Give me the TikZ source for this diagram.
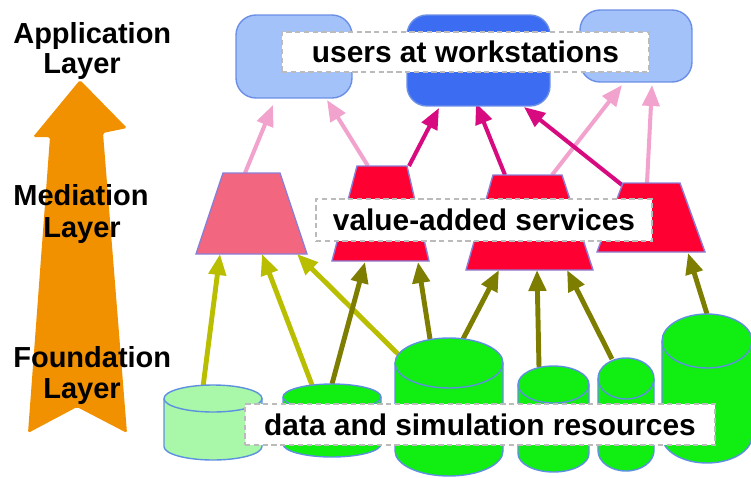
\documentclass[tikz,border=0pt]{standalone}
\usepackage{fontspec}
\setmainfont{Liberation Sans}
\usetikzlibrary{arrows.meta}

\definecolor{layerorange}{HTML}{F29100}
\definecolor{paleblue}{HTML}{A4C2FA}
\definecolor{deepblue}{HTML}{3B6CF2}
\definecolor{edgeblue}{HTML}{6B8FE6}
\definecolor{servpink}{HTML}{F2667F}
\definecolor{servred}{HTML}{FF0033}
\definecolor{servedge}{HTML}{8A7FD8}
\definecolor{datagreen}{HTML}{11EE11}
\definecolor{palegreen}{HTML}{A9F7A9}
\definecolor{dataedge}{HTML}{5E90E0}
\definecolor{lightpink}{HTML}{F2A3CD}
\definecolor{magentaarr}{HTML}{D80A80}
\definecolor{limearr}{HTML}{B9BF00}
\definecolor{olivearr}{HTML}{7D7D00}
\definecolor{dashgray}{HTML}{BBBBBB}

% fill, centre x, top y, bottom y, x radius, y radius (pixels)
\newcommand{\drum}[6]{%
  \filldraw[fill=#1,draw=dataedge,line width=0.8pt] (#2-#5,#3) -- (#2-#5,#4)
    arc[start angle=180,end angle=360,x radius=#5*0.02cm,y radius=#6*0.02cm]
    -- (#2+#5,#3);
  \filldraw[fill=#1,draw=dataedge,line width=0.8pt] (#2,#3)
    ellipse[x radius=#5*0.02cm,y radius=#6*0.02cm];
}

\tikzset{
  layer/.style={inner sep=0pt,font=\fontsize{16.5}{18}\selectfont\bfseries},
  note/.style={draw=dashgray,fill=white,dash pattern=on 3pt off 2pt,line width=0.8pt,
    inner sep=0pt,font=\fontsize{17}{18}\selectfont\bfseries},
  wsbox/.style={draw=edgeblue,fill=paleblue,line width=0.8pt,rounded corners=0.4cm},
  trap/.style={draw=servedge,fill=servred,line width=0.8pt},
  uparr/.style={-{Triangle[length=0.42cm,width=0.34cm]}},
  pk/.style={uparr,draw=lightpink,fill=lightpink,line width=2.3pt},
  mg/.style={uparr,draw=magentaarr,fill=magentaarr,line width=2.3pt},
  lime/.style={uparr,draw=limearr,fill=limearr,line width=2.8pt},
  olive/.style={uparr,draw=olivearr,fill=olivearr,line width=2.8pt}
}

\begin{document}
\begin{tikzpicture}[x=0.02cm,y=-0.02cm]
\useasboundingbox (0,0) rectangle (751,477);

% Big arrow behind the layer names
\fill[layerorange,rounded corners=1pt] (80,80) -- (127,128) -- (103,133) -- (127,433)
  -- (77,407) -- (28,433) -- (50,137) -- (33,137) -- cycle;
\node[layer,anchor=base west] (appname) at (13,43) {Application};
\node[layer,anchor=base west] (applayer) at (43,73) {Layer};
\node[layer,anchor=base west] (medname) at (13,205) {Mediation};
\node[layer,anchor=base west] (medlayer) at (43,237) {Layer};
\node[layer,anchor=base west] (fndname) at (13,367) {Foundation};
\node[layer,anchor=base west] (fndlayer) at (43,398) {Layer};

% Arrow ends, services to workstations
\coordinate (sv1up) at (245,173);
\coordinate (sv2upl) at (368,166);
\coordinate (sv2upr) at (409,166);
\coordinate (sv3upl) at (505,175);
\coordinate (sv3upr) at (552,175);
\coordinate (sv4upl) at (622,185);
\coordinate (sv4upr) at (647,183);
\coordinate (ws1l) at (273,105);
\coordinate (ws1r) at (327,100);
\coordinate (ws2l) at (439,108);
\coordinate (ws2m) at (476,103);
\coordinate (ws2r) at (524,107);
\coordinate (ws3l) at (622,85);
\coordinate (ws3r) at (652,85);
% Arrow ends, resources to services
\coordinate (db1) at (203,387);
\coordinate (db2l) at (312,385);
\coordinate (db2r) at (332,384);
\coordinate (db3l) at (398,354);
\coordinate (db3m) at (430,339);
\coordinate (db3r) at (463,339);
\coordinate (db4) at (539,367);
\coordinate (db5) at (612,359);
\coordinate (db6) at (707,314);
\coordinate (sv1l) at (220,254);
\coordinate (sv1m) at (262,254);
\coordinate (sv1r) at (297,254);
\coordinate (sv2l) at (365,262);
\coordinate (sv2r) at (418,262);
\coordinate (sv3l) at (499,270);
\coordinate (sv3m) at (537,270);
\coordinate (sv3r) at (567,270);
\coordinate (sv4) at (688,253);

% Upper arrows
\draw[pk] (sv1up) -- (ws1l);
\draw[pk] (sv2upl) -- (ws1r);
\draw[pk] (sv3upr) -- (ws3l);
\draw[pk] (sv4upr) -- (ws3r);
\draw[mg] (sv2upr) -- (ws2l);
\draw[mg] (sv3upl) -- (ws2m);
\draw[mg] (sv4upl) -- (ws2r);
% Lower arrows
\draw[lime] (db1) -- (sv1l);
\draw[lime] (db2l) -- (sv1m);
\draw[lime] (db3l) -- (sv1r);
\draw[olive] (db2r) -- (sv2l);
\draw[olive] (db3m) -- (sv2r);
\draw[olive] (db3r) -- (sv3l);
\draw[olive] (db4) -- (sv3m);
\draw[olive] (db5) -- (sv3r);
\draw[olive] (db6) -- (sv4);

% Workstations
\node[wsbox,minimum width=2.32cm,minimum height=1.66cm] (ws1) at (294,56.5) {};
\node[wsbox,fill=deepblue,minimum width=2.86cm,minimum height=1.82cm] (ws2) at (478.5,60.5) {};
\node[wsbox,minimum width=2.24cm,minimum height=1.44cm] (ws3) at (636,46) {};

% Services
\draw[trap,fill=servpink] (223,173) -- (280,173) -- (307,254) -- (196,254) -- cycle;
\draw[trap] (357,166) -- (407,166) -- (429,261) -- (332,261) -- cycle;
\draw[trap] (493,175) -- (562,175) -- (593,270) -- (466,270) -- cycle;
\draw[trap] (623,183) -- (680,183) -- (705,252) -- (597,252) -- cycle;

% Resources
\drum{palegreen}{213}{398.5}{446.5}{49}{13.5}
\drum{datagreen}{332}{397}{444}{49}{13}
\drum{datagreen}{449}{363}{451}{54}{25}
\drum{datagreen}{553.5}{384.5}{453.5}{35.5}{18.5}
\drum{datagreen}{626}{378.5}{450.5}{28}{20.5}
\drum{datagreen}{707}{341}{436}{45}{27}

% Layer captions
\node[note,minimum width=7.34cm,minimum height=0.8cm] (wsnote) at (465.5,52) {users at workstations};
\node[note,minimum width=6.72cm,minimum height=0.84cm] (svnote) at (484,220) {value-added services};
\node[note,minimum width=9.4cm,minimum height=0.82cm] (dbnote) at (480,424.5) {data and simulation resources};
\end{tikzpicture}
\end{document}
